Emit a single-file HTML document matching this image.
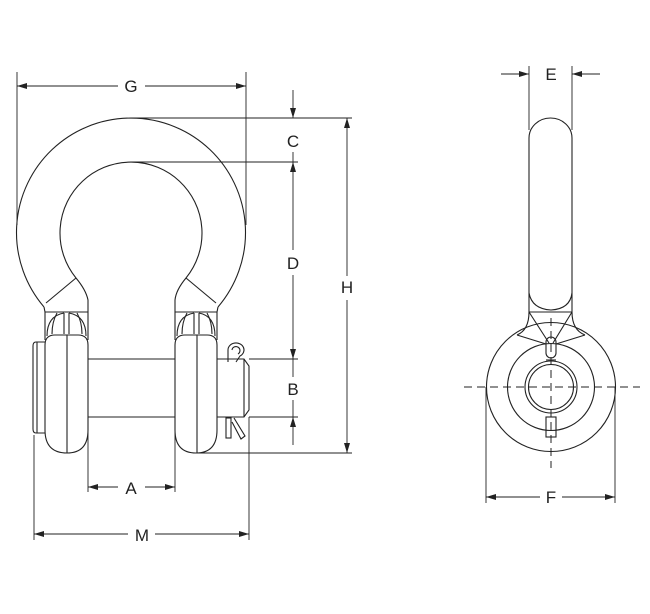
<!DOCTYPE html>
<html><head><style>html,body{margin:0;padding:0;background:#fff}svg{display:block}</style></head>
<body>
<svg width="650" height="614" viewBox="0 0 650 614" xmlns="http://www.w3.org/2000/svg">
<defs>
<marker id="a" viewBox="0 0 10 6" refX="10" refY="3" markerWidth="10" markerHeight="6" markerUnits="userSpaceOnUse" orient="auto"><path d="M0,0 L10,3 L0,6 z" fill="#222"/></marker>
</defs>
<g fill="none" stroke="#222" stroke-width="1.1">
<path d="M44,307 A114.5,114.5 0 1 1 218,307"/>
<path d="M88,312 L88,300 Q86,290 76,278 A71,71 0 1 1 186,278 Q176,290 175,300 L175,312"/>
<line x1="44" y1="307" x2="45" y2="312"/><line x1="218" y1="307" x2="217" y2="312"/>
<line x1="76" y1="278" x2="46" y2="303"/><line x1="186" y1="278" x2="216" y2="303"/>
<line x1="45" y1="312" x2="88" y2="312"/><line x1="175" y1="312" x2="217" y2="312"/>
<path d="M45,312 L45,340 M88,312 L88,340"/>
<path d="M47,336 Q47,316 64,313 M86,336 Q86,316 69,313"/>
<path d="M57,313 Q52,322 52,334 M77,313 Q82,322 82,334"/>
<line x1="64" y1="313" x2="64" y2="334"/><line x1="69" y1="313" x2="69" y2="334"/>
<path d="M45,345 Q45,335 55,335 L78,335 Q88,335 88,345 L88,430 Q88,453 67,453 Q45,453 45,430 Z"/>
<line x1="67" y1="335" x2="67" y2="453"/>
<path d="M45,342 L36,342 Q33,342 33,346 L33,429 Q33,433 36,433 L45,433"/>
<line x1="37" y1="342" x2="37" y2="433"/>
<path d="M175,312 L175,340 M217,312 L217,340"/>
<path d="M177,336 Q177,316 194,313 M215,336 Q215,316 199,313"/>
<path d="M187,313 Q182,322 182,334 M207,313 Q212,322 212,334"/>
<line x1="194" y1="313" x2="194" y2="334"/><line x1="199" y1="313" x2="199" y2="334"/>
<path d="M175,345 Q175,335 185,335 L207,335 Q217,335 217,345 L217,430 Q217,453 196,453 Q175,453 175,430 Z"/>
<line x1="197" y1="335" x2="197" y2="453"/>
<line x1="88" y1="359" x2="175" y2="359"/><line x1="88" y1="417" x2="175" y2="417"/>
<path d="M217,359 L244,359 L249,366 L249,410 L244,417 L217,417"/><line x1="244" y1="359" x2="244" y2="417"/>
<path d="M228,362 L228,350 A8,7 0 1 1 240,356 L236,362"/><path d="M232,350 A4,4 0 1 1 238,354"/>
<rect x="226" y="418" width="5" height="20"/><path d="M234,418 L245,436 L241,439 L232,422"/>
</g>
<g fill="none" stroke="#222" stroke-width="1.1">
<path d="M529,312 L529,138 A21.5,20 0 0 1 572,138 L572,312"/>
<path d="M529,293 Q532,309 551,310 Q570,309 572,293"/>
<line x1="529" y1="312" x2="572" y2="312"/>
<path d="M529,312 Q529,330 517,335 M572,312 Q572,330 585,335"/>
<circle cx="551" cy="387" r="64.5"/>
<circle cx="551" cy="387" r="43.5"/>
<circle cx="551" cy="387" r="26"/>
<circle cx="551" cy="387" r="22.5"/>
<line x1="529" y1="312" x2="549" y2="343"/><line x1="572" y1="312" x2="553" y2="343"/>
<line x1="517" y1="335" x2="546" y2="344"/><line x1="585" y1="335" x2="556" y2="344"/>
<rect x="546" y="337" width="10" height="21" rx="5"/>
<line x1="546" y1="360" x2="556" y2="360"/>
<rect x="546" y="417" width="10" height="20"/>
</g>
<g stroke="#222" stroke-width="1" stroke-dasharray="8,5" fill="none">
<line x1="464" y1="387" x2="640" y2="387"/>
<line x1="551" y1="318" x2="551" y2="468"/>
</g>
<g stroke="#222" stroke-width="0.9" fill="none">
<line x1="17" y1="72" x2="17" y2="225"/><line x1="246" y1="72" x2="246" y2="225"/>
<line x1="118" y1="86" x2="17" y2="86" marker-end="url(#a)"/>
<line x1="145" y1="86" x2="246" y2="86" marker-end="url(#a)"/>
<line x1="131" y1="118" x2="352" y2="118"/>
<line x1="131" y1="162" x2="298" y2="162"/>
<line x1="249" y1="359" x2="298" y2="359"/>
<line x1="249" y1="417" x2="298" y2="417"/>
<line x1="197" y1="453" x2="352" y2="453"/>
<line x1="293" y1="90" x2="293" y2="118" marker-end="url(#a)"/>
<line x1="293" y1="152" x2="293" y2="162"/>
<line x1="293" y1="250" x2="293" y2="162" marker-end="url(#a)"/>
<line x1="293" y1="275" x2="293" y2="359" marker-end="url(#a)"/>
<line x1="293" y1="359" x2="293" y2="377"/>
<line x1="293" y1="400" x2="293" y2="417"/>
<line x1="293" y1="445" x2="293" y2="417" marker-end="url(#a)"/>
<line x1="347" y1="276" x2="347" y2="118" marker-end="url(#a)"/>
<line x1="347" y1="300" x2="347" y2="453" marker-end="url(#a)"/>
<line x1="88" y1="417" x2="88" y2="492"/><line x1="175" y1="417" x2="175" y2="492"/>
<line x1="118" y1="487" x2="88" y2="487" marker-end="url(#a)"/>
<line x1="145" y1="487" x2="175" y2="487" marker-end="url(#a)"/>
<line x1="34" y1="435" x2="34" y2="540"/><line x1="249" y1="417" x2="249" y2="540"/>
<line x1="128" y1="534" x2="34" y2="534" marker-end="url(#a)"/>
<line x1="155" y1="534" x2="249" y2="534" marker-end="url(#a)"/>
<line x1="529" y1="66" x2="529" y2="130"/><line x1="572" y1="66" x2="572" y2="130"/>
<line x1="501" y1="74" x2="529" y2="74" marker-end="url(#a)"/>
<line x1="600" y1="74" x2="572" y2="74" marker-end="url(#a)"/>
<line x1="486" y1="387" x2="486" y2="503"/><line x1="615" y1="387" x2="615" y2="503"/>
<line x1="540" y1="497" x2="486" y2="497" marker-end="url(#a)"/>
<line x1="562" y1="497" x2="615" y2="497" marker-end="url(#a)"/>
</g>
<g font-family="Liberation Sans, sans-serif" font-size="17" fill="#222" text-anchor="middle">
<text x="131" y="92">G</text>
<text x="293" y="147">C</text>
<text x="293" y="269">D</text>
<text x="293" y="395">B</text>
<text x="347" y="293">H</text>
<text x="131" y="494">A</text>
<text x="142" y="541">M</text>
<text x="551" y="80">E</text>
<text x="551" y="503">F</text>
</g>
</svg>
</body></html>
